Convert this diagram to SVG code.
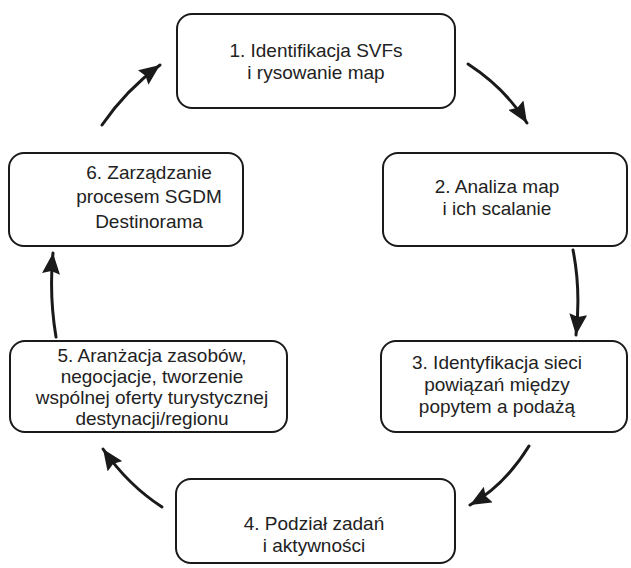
<svg xmlns="http://www.w3.org/2000/svg" width="631" height="568" viewBox="0 0 631 568">
<defs>
<style>
.box{fill:#fff;stroke:#1a1a1a;stroke-width:2}
.t{font-family:"Liberation Sans",Arial,sans-serif;font-size:19px;fill:#222;text-anchor:middle}
.c{fill:none;stroke:#1a1a1a;stroke-width:3;stroke-linecap:round}
</style>
<marker id="ah" markerUnits="userSpaceOnUse" markerWidth="22" markerHeight="18" refX="21" refY="9" orient="auto">
<path d="M0,0 L21,9 L0,18 L3,9 z" fill="#1a1a1a"/>
</marker>
</defs>
<rect width="631" height="568" fill="#fff"/>
<g id="n1"><rect class="box" x="177" y="14" width="278" height="94" rx="15"/>
<text class="t" x="316" y="57">1. Identifikacja SVFs</text><text class="t" x="316" y="79">i rysowanie map</text></g>
<g id="n2"><rect class="box" x="383" y="153" width="244" height="93" rx="15"/>
<text class="t" x="497" y="193">2. Analiza map</text><text class="t" x="497" y="215">i ich scalanie</text></g>
<g id="n3"><rect class="box" x="381" y="341" width="246" height="91" rx="15"/>
<text class="t" x="497" y="369">3. Identyfikacja sieci</text><text class="t" x="497" y="391">powiązań między</text><text class="t" x="497" y="413">popytem a podażą</text></g>
<g id="n4"><rect class="box" x="176" y="479" width="279" height="84" rx="15"/>
<text class="t" x="314" y="530">4. Podział zadań</text><text class="t" x="314" y="552">i aktywności</text></g>
<g id="n5"><rect class="box" x="10" y="341" width="277" height="91" rx="15"/>
<text class="t" x="152" y="362">5. Aranżacja zasobów,</text><text class="t" x="152" y="383">negocjacje, tworzenie</text><text class="t" x="152" y="404">wspólnej oferty turystycznej</text><text class="t" x="152" y="425">destynacji/regionu</text></g>
<g id="n6"><rect class="box" x="9" y="153" width="234" height="93" rx="15"/>
<text class="t" x="149" y="179">6. Zarządzanie</text><text class="t" x="149" y="203">procesem SGDM</text><text class="t" x="149" y="228">Destinorama</text></g>
<g id="connectors">
<path class="c" marker-end="url(#ah)" d="M468,64 Q505,88 527,123"/>
<path class="c" marker-end="url(#ah)" d="M573,250 Q581,290 576,335"/>
<path class="c" marker-end="url(#ah)" d="M529,446 Q505,485 470,505"/>
<path class="c" marker-end="url(#ah)" d="M162,507 Q128,485 103,449"/>
<path class="c" marker-end="url(#ah)" d="M56,337 Q49,295 53,253"/>
<path class="c" marker-end="url(#ah)" d="M102,125 Q126,90 160,65"/>
</g>
</svg>
